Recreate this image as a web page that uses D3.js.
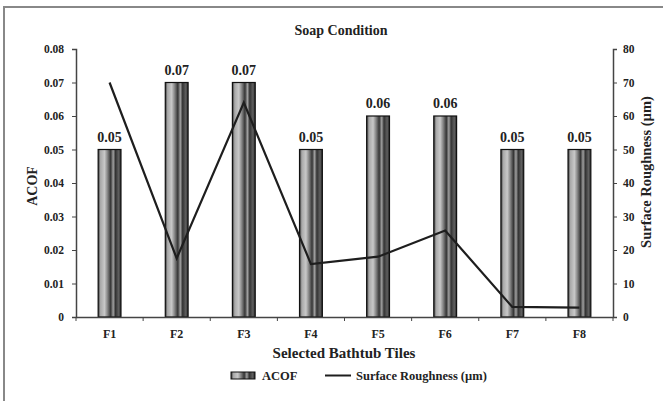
<!DOCTYPE html>
<html>
<head>
<meta charset="utf-8">
<script src="https://cdn.jsdelivr.net/npm/d3@7"></script>
<style>
  body { margin: 0; background: #fff; }
  text { font-family: "Liberation Serif", "Times New Roman", serif; font-weight: bold; fill: #222; }
</style>
</head>
<body>
<svg width="663" height="401"></svg>
<script>
const tiles = ["F1", "F2", "F3", "F4", "F5", "F6", "F7", "F8"];
const acof = [0.05, 0.07, 0.07, 0.05, 0.06, 0.06, 0.05, 0.05];
const roughness = [70, 17.5, 64, 15.8, 18, 25.8, 3, 2.8];
const acofTicks = [0, 0.01, 0.02, 0.03, 0.04, 0.05, 0.06, 0.07, 0.08];
const roughTicks = [0, 10, 20, 30, 40, 50, 60, 70, 80];

const plotLeft = 76, plotRight = 613, plotTop = 49, plotBottom = 317;

const svg = d3.select("svg");

// outer frame (only top and left edges visible in the crop)
svg.append("path")
   .attr("d", "M4,401 L4,7 L663,7")
   .attr("fill", "none")
   .attr("stroke", "#888")
   .attr("stroke-width", 2);

// cylinder-ish stripes for the bars
const grad = svg.append("defs").append("linearGradient")
   .attr("id", "barGrad")
   .attr("x1", "0%").attr("x2", "100%").attr("y1", "0%").attr("y2", "0%");
[[0, "#333"], [0.1, "#a8a8a8"], [0.28, "#c8c8c8"], [0.42, "#808080"], [0.55, "#353535"],
 [0.66, "#a0a0a0"], [0.76, "#333"], [0.9, "#606060"], [1, "#252525"]]
  .forEach(s => grad.append("stop").attr("offset", s[0]).attr("stop-color", s[1]));

const x = d3.scaleBand()
   .domain(tiles)
   .range([plotLeft, plotRight])
   .paddingInner(0.66)
   .paddingOuter(0.33);

const yL = d3.scaleLinear().domain([0, 0.08]).range([plotBottom, plotTop]);
const yR = d3.scaleLinear().domain([0, 80]).range([plotBottom, plotTop]);

// bars
svg.selectAll("rect.bar")
   .data(acof)
   .enter()
   .append("rect")
   .attr("class", "bar")
   .attr("x", (d, i) => x(tiles[i]))
   .attr("y", d => yL(d))
   .attr("width", x.bandwidth())
   .attr("height", d => plotBottom - yL(d))
   .attr("fill", "url(#barGrad)")
   .attr("stroke", "#111")
   .attr("stroke-width", 1.2);

// value labels
svg.selectAll("text.val")
   .data(acof)
   .enter()
   .append("text")
   .attr("class", "val")
   .attr("x", (d, i) => x(tiles[i]) + x.bandwidth() / 2)
   .attr("y", d => yL(d) - 8)
   .attr("text-anchor", "middle")
   .style("font-size", "14px")
   .text(d => d.toFixed(2));

// left axis
const axL = svg.append("g")
   .attr("transform", `translate(${plotLeft},0)`)
   .call(d3.axisLeft(yL).tickValues(acofTicks).tickSize(4).tickPadding(8)
         .tickFormat(d => d === 0 ? "0" : d.toFixed(2)));

// right axis
const axR = svg.append("g")
   .attr("transform", `translate(${plotRight},0)`)
   .call(d3.axisRight(yR).tickValues(roughTicks).tickSize(4).tickPadding(6));

// x axis, ticks sit between categories
const axX = svg.append("g")
   .attr("transform", `translate(0,${plotBottom})`)
   .call(d3.axisBottom(x).tickSize(0).tickPadding(12));
axX.selectAll(".sep")
   .data(d3.range(tiles.length + 1))
   .enter()
   .append("line")
   .attr("x1", i => plotLeft + i * x.step())
   .attr("x2", i => plotLeft + i * x.step())
   .attr("y1", 0).attr("y2", 4)
   .attr("stroke", "#444");

[axL, axR, axX].forEach(g => {
  g.select(".domain").attr("stroke", "#444").attr("stroke-width", 1.5);
  g.selectAll(".tick line").attr("stroke", "#444");
  g.selectAll("text").style("font-size", "11.5px").attr("fill", "#222")
   .style("font-family", "Liberation Serif").style("font-weight", "bold");
});
axX.selectAll(".tick text").style("font-size", "12px");

// roughness line
const line = d3.line()
   .x((d, i) => x(tiles[i]) + x.bandwidth() / 2)
   .y(d => yR(d));

svg.append("path")
   .datum(roughness)
   .attr("d", line)
   .attr("fill", "none")
   .attr("stroke", "#1e1e1e")
   .attr("stroke-width", 2.2);

// titles
svg.append("text")
   .attr("x", 341).attr("y", 35)
   .attr("text-anchor", "middle")
   .style("font-size", "14px")
   .text("Soap Condition");

svg.append("text")
   .attr("x", 344).attr("y", 358)
   .attr("text-anchor", "middle")
   .style("font-size", "15px")
   .text("Selected Bathtub Tiles");

svg.append("text")
   .attr("transform", "translate(37,186) rotate(-90)")
   .attr("text-anchor", "middle")
   .style("font-size", "14px")
   .text("ACOF");

svg.append("text")
   .attr("transform", "translate(651,172) rotate(-90)")
   .attr("text-anchor", "middle")
   .style("font-size", "14.5px")
   .text("Surface Roughness (µm)");

// legend
const leg = svg.append("g");
leg.append("rect")
   .attr("x", 231).attr("y", 372).attr("width", 24).attr("height", 7)
   .attr("fill", "url(#barGrad)")
   .attr("stroke", "#111");
leg.append("text")
   .attr("x", 262).attr("y", 380)
   .style("font-size", "12.5px")
   .text("ACOF");
leg.append("line")
   .attr("x1", 325).attr("x2", 351).attr("y1", 375.5).attr("y2", 375.5)
   .attr("stroke", "#1e1e1e").attr("stroke-width", 2);
leg.append("text")
   .attr("x", 356).attr("y", 380)
   .style("font-size", "12.5px")
   .text("Surface Roughness (µm)");
</script>
</body>
</html>
